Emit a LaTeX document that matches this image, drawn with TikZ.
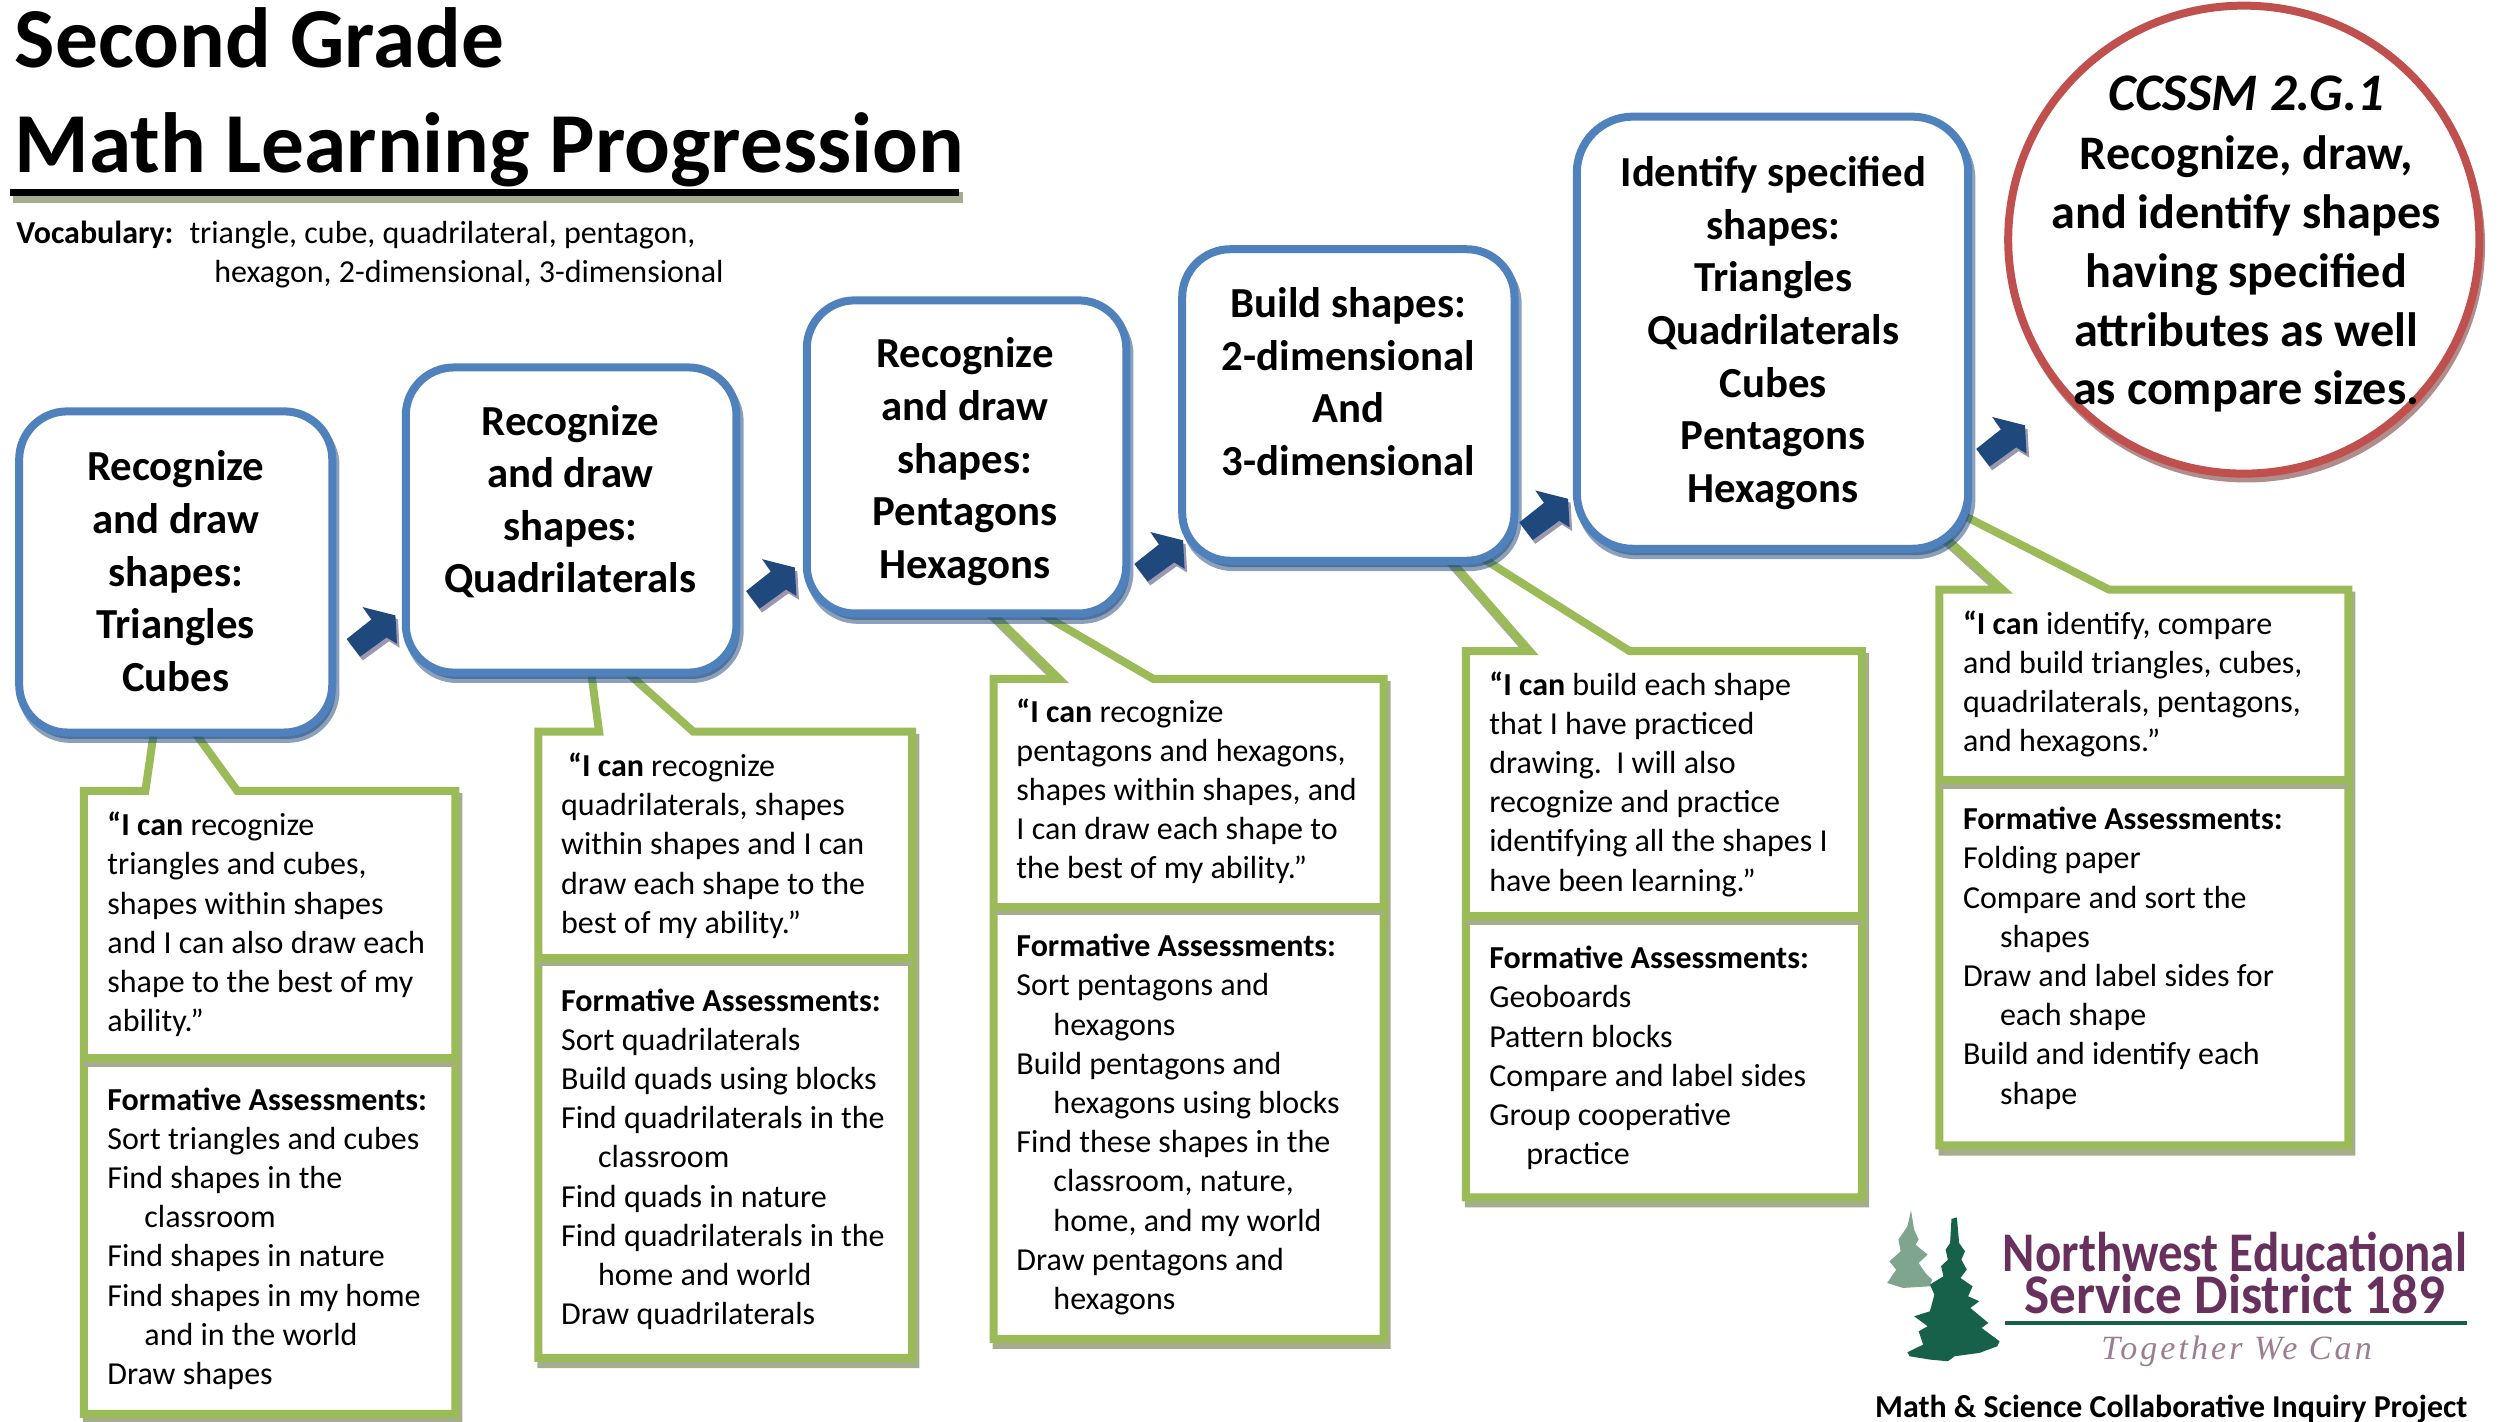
\documentclass[tikz,border=0pt]{standalone}
\usepackage{fontspec}
\setmainfont{Carlito}
\newfontfamily\serifit{Liberation Serif}
\usetikzlibrary{shapes.geometric}
\definecolor{bxblue}{HTML}{4F81BD}
\definecolor{bxgreen}{HTML}{9BBB59}
\definecolor{bxred}{HTML}{C0504D}
\definecolor{arblue}{HTML}{1F497D}
\definecolor{shadegreen}{HTML}{A5AD8D}
\definecolor{shadered}{HTML}{B08C8C}
\definecolor{shadearrow}{HTML}{9A97AE}
\definecolor{logopurple}{HTML}{68305C}
\definecolor{logotag}{HTML}{9C7E92}
\definecolor{logodark}{HTML}{17604A}
\definecolor{logolight}{HTML}{7FA58F}
\newcommand{\heading}{\fontsize{21.4}{26.3}\selectfont\bfseries}
\newcommand{\bodyfs}{\fontsize{16}{19.6}\selectfont}
\newcommand{\hang}{\hspace*{18.5pt}}
\tikzset{
  x=0.7988pt,y=-0.7988pt,
  goalbox/.style={draw=bxblue,line width=4pt,fill=white,inner sep=0pt,outer sep=0pt,anchor=north west},
  callout/.style={draw=bxgreen,line width=4pt,fill=white,miter limit=20},
  calloutshade/.style={draw=shadegreen,fill=shadegreen,line width=4pt,miter limit=20,shift={(1.9,3.8)}},
  divider/.style={draw=bxgreen,line width=4pt},
  dividershade/.style={draw=shadegreen,line width=4pt,shift={(0,2.7)}},
  saytext/.style={anchor=north west,inner sep=0pt,align=left,font=\bodyfs},
  headtext/.style={anchor=center,inner sep=0pt,align=center,font=\heading},
  blockarrow/.style={fill=arblue,draw=none},
  arrowshadow/.style={fill=shadearrow,draw=none},
}
\newcommand{\blockarr}[2]{%
 \begin{scope}[shift={(#1,#2)}]
  \fill[arrowshadow,shift={(1.6,2.4)}] (30.5,5.2)--(10,0)--(15.5,7.7)--(0,20)--(8.4,31)--(25,19)--(31.5,23)--cycle;
  \fill[blockarrow] (30.5,5.2)--(10,0)--(15.5,7.7)--(0,20)--(8.4,31)--(25,19)--(31.5,23)--cycle;
 \end{scope}}
\newcommand{\bluebox}[6]{%
 \path[fill=arblue,draw=arblue,line width=4pt,opacity=.52,rounded corners=#6] (#2+2,#3+4) rectangle (#4+2,#5+4);
 \node[goalbox,rounded corners=#6,minimum width={(#4-#2)*0.7988pt},minimum height={(#5-#3)*0.7988pt}] (#1) at (#2,#3) {};
 }
\newcommand{\callpoly}[9]{%
 (#1,#2) -- (#3,#2) -- (#4,#5) -- (#6,#5) -- (#7,#2) -- (#8,#2) -- (#8,#9) -- (#1,#9) -- cycle}
\newcommand{\calloutbox}[9]{%
 \draw[calloutshade] \callpoly{#1}{#2}{#3}{#4}{#5}{#6}{#7}{#8}{#9};
 \draw[callout] \callpoly{#1}{#2}{#3}{#4}{#5}{#6}{#7}{#8}{#9};
}
\begin{document}
\begin{tikzpicture}
\useasboundingbox (0,0) rectangle (1568,889.5);
% arrows behind the boxes
\blockarr{217}{380}
\blockarr{467}{350}
\blockarr{710}{333}
\blockarr{951}{307}
\blockarr{1237}{261}
% callouts
\calloutbox{52.5}{495}{91}{97.5}{450}{115.8}{148.5}{285}{885}
\draw[dividershade] (52.5,662.5) -- (285,662.5);
\draw[divider] (52.5,662.5) -- (285,662.5);
\calloutbox{337}{458}{375}{368.6}{410}{380.4}{434}{571}{850}
\draw[dividershade] (337,599.5) -- (571,599.5);
\draw[divider] (337,599.5) -- (571,599.5);
\calloutbox{622}{425}{663}{612}{375}{636}{722}{866}{838}
\draw[dividershade] (622,567.5) -- (866,567.5);
\draw[divider] (622,567.5) -- (866,567.5);
\calloutbox{917.5}{407.5}{957.5}{900.3}{342}{916.3}{1020}{1165.5}{749.5}
\draw[dividershade] (917.5,573.5) -- (1165.5,573.5);
\draw[divider] (917.5,573.5) -- (1165.5,573.5);
\calloutbox{1214}{369}{1253.4}{1194}{315}{1214}{1320}{1470}{717}
\draw[dividershade] (1214,488.5) -- (1470,488.5);
\draw[divider] (1214,488.5) -- (1470,488.5);
% main boxes
\bluebox{b1}{12}{257.5}{208}{458.5}{24pt}
\bluebox{b2}{254}{230}{461}{421}{24pt}
\bluebox{b3}{505}{188}{705}{384}{24pt}
\bluebox{b4}{740}{156}{948}{351}{24pt}
\bluebox{b5}{987}{73}{1232}{343.5}{28pt}
% goal circle
\path[fill=shadered] (1406,153.5) ellipse [x radius=149.5,y radius=148.5];
\node[draw=bxred,line width=4pt,fill=white,ellipse,inner sep=0pt,outer sep=0pt,minimum width=235.6pt,minimum height=234pt] (goal) at (1404.5,150) {};
% heading text
\node[headtext] (t1) at (110,357.5) {Recognize\\and draw\\shapes:\\Triangles\\Cubes};
\node[headtext] (t2) at (357,314) {Recognize\\and draw\\shapes:\\Quadrilaterals};
\node[headtext] (t3) at (604,289) {Recognize\\and draw\\shapes:\\Pentagons\\Hexagons};
\node[headtext] (t4) at (844,239) {Build shapes:\\2-dimensional\\And\\3-dimensional};
\node[headtext] (t5) at (1110,208.5) {Identify specified\\shapes:\\Triangles\\Quadrilaterals\\Cubes\\Pentagons\\Hexagons};
\node[headtext,font=\fontsize{24.1}{29.4}\selectfont\bfseries] (t6) at (1406,153) {{\fontsize{26.4}{29.4}\selectfont\textit{CCSSM 2.G.1}}\\Recognize, draw,\\and identify shapes\\having specified\\attributes as well\\as compare sizes.};
% title
\node[anchor=base west,inner sep=0pt,font=\fontsize{42.7}{48}\selectfont\bfseries] (title1) at (9,42) {Second Grade};
\node[anchor=base west,inner sep=0pt,font=\fontsize{42.7}{48}\selectfont\bfseries] (title2) at (9,108) {Math Learning Progression};
\fill[fill=shadegreen] (8,120) rectangle (603,127);
\fill[black] (6,118) rectangle (600.5,122.6);
\node[saytext] (voc) at (10,138) {\textbf{Vocabulary:}\hspace{8pt}triangle, cube, quadrilateral, pentagon,\\\hspace*{99pt}hexagon, 2-dimensional, 3-dimensional};
% callout text
\node[saytext] (s1) at (67,508) {\textbf{“I can} recognize\\triangles and cubes,\\shapes within shapes\\and I can also draw each\\shape to the best of my\\ability.”};
\node[saytext] (f1) at (67,680.5) {\textbf{Formative Assessments:}\\Sort triangles and cubes\\Find shapes in the\\\hang classroom\\Find shapes in nature\\Find shapes in my home\\\hang and in the world\\Draw shapes};
\node[saytext] (s2) at (351,471) {\hspace*{3.5pt}\textbf{“I can} recognize\\quadrilaterals, shapes\\within shapes and I can\\draw each shape to the\\best of my ability.”};
\node[saytext] (f2) at (351,618.5) {\textbf{Formative Assessments:}\\Sort quadrilaterals\\Build quads using blocks\\Find quadrilaterals in the\\\hang classroom\\Find quads in nature\\Find quadrilaterals in the\\\hang home and world\\Draw quadrilaterals};
\node[saytext] (s3) at (636,437) {\textbf{“I can} recognize\\pentagons and hexagons,\\shapes within shapes, and\\I can draw each shape to\\the best of my ability.”};
\node[saytext] (f3) at (636,584.5) {\textbf{Formative Assessments:}\\Sort pentagons and\\\hang hexagons\\Build pentagons and\\\hang hexagons using blocks\\Find these shapes in the\\\hang classroom, nature,\\\hang home, and my world\\Draw pentagons and\\\hang hexagons};
\node[saytext] (s4) at (932,420) {\textbf{“I can} build each shape\\that I have practiced\\drawing.\ \ I will also\\recognize and practice\\identifying all the shapes I\\have been learning.”};
\node[saytext] (f4) at (932,592) {\textbf{Formative Assessments:}\\Geoboards\\Pattern blocks\\Compare and label sides\\Group cooperative\\\hang practice};
\node[saytext] (s5) at (1228.5,382) {\textbf{“I can} identify, compare\\and build triangles, cubes,\\quadrilaterals, pentagons,\\and hexagons.”};
\node[saytext] (f5) at (1228.5,505) {\textbf{Formative Assessments:}\\Folding paper\\Compare and sort the\\\hang shapes\\Draw and label sides for\\\hang each shape\\Build and identify each\\\hang shape};
% logo
\begin{scope}[shift={(1126.4,738.4)},x=0.2248pt,y=-0.1666pt]
\fill[logolight] (248,92)--(255,150)--(265,180)--(258,195)--(285,225)--(265,250)--(280,280)--(295,300)--(290,320)--(230,325)--(195,310)--(215,270)--(200,245)--(225,215)--(220,180)--(240,140)--cycle;
\fill[logodark] (338,118)--(350,113)--(355,190)--(368,215)--(360,240)--(372,270)--(358,295)--(385,320)--(375,350)--(400,365)--(380,385)--(420,430)--(405,445)--(425,465)--(445,485)--(440,500)--(400,520)--(345,530)--(330,545)--(290,540)--(245,530)--(240,518)--(275,495)--(265,455)--(285,440)--(255,410)--(290,395)--(300,345)--(290,315)--(320,290)--(315,260)--(330,240)--(325,210)--(335,190)--cycle;
\end{scope}
\node[anchor=center,inner sep=0pt,align=center,text=logopurple,font=\fontsize{28}{20.8}\selectfont\bfseries] (lg1) at (1399,797) {\scalebox{0.875}[1]{Northwest Educational}\\\scalebox{0.95}[1]{Service District 189}};
\coordinate (la) at (1255,828);
\coordinate (lb) at (1544,828);
\draw[logodark,line width=2pt] (la) -- (lb);
\node[anchor=base,inner sep=0pt,text=logotag,font=\fontsize{17}{19}\selectfont\serifit\itshape\addfontfeature{LetterSpace=9}] (lg3) at (1400,851) {Together We Can};
\node[anchor=base west,inner sep=0pt,font=\fontsize{15.95}{18}\selectfont\bfseries] (proj) at (1173.5,887) {Math \& Science Collaborative Inquiry Project};
\end{tikzpicture}
\end{document}
